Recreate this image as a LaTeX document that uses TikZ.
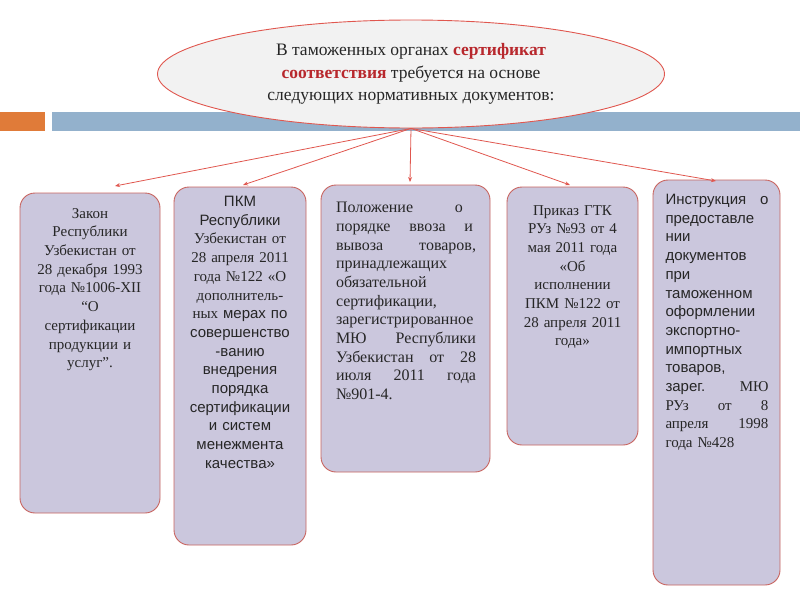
\documentclass[tikz,border=0pt]{standalone}
\usepackage{fontspec}
\setmainfont{Liberation Serif}
\setsansfont{Liberation Sans}
\usepackage{xcolor}
\usepackage{tikz}
\usetikzlibrary{
  arrows.meta,
  shapes.geometric,
  positioning,
  calc
}
\definecolor{skBar}{HTML}{93B1CC}
\definecolor{skOrange}{HTML}{E07B39}
\definecolor{skEllipse}{HTML}{F2F2F2}
\definecolor{skRed}{HTML}{E0574F}
\definecolor{skDark}{HTML}{B8282D}
\definecolor{skBox}{HTML}{CBC7DD}
\definecolor{skEdge}{HTML}{C8645F}
\definecolor{skText}{HTML}{262626}
\newcommand{\spreadline}[2][140pt]{\makebox[#1][s]{#2}}
\tikzset{
  docbox/.style={
    draw=skEdge, fill=skBox, rounded corners=15pt, line width=0.9pt, inner sep=0pt
  },
  doctext/.style={
    anchor=north, inner sep=0pt, text=skText, align=center,
    font=\fontsize{15}{18.7}\selectfont
  },
  topic/.style={
    draw=skRed, fill=skEllipse, ellipse, line width=0.9pt, inner sep=0pt,
    minimum width=507pt, minimum height=108pt, align=center, text=skText,
    font=\fontsize{17.5}{22.5}\selectfont
  },
  link/.style={-{Stealth[length=5pt, width=4pt]}, skRed, line width=0.8pt}
}

\begin{document}
\begin{tikzpicture}[x=1pt, y=-1pt]
  \useasboundingbox (0,0) rectangle (800,600);
  % band under the title
  \fill[skOrange] (0,112) rectangle (45,131);
  \fill[skBar] (52,112) rectangle (800,131);

  \node[topic] (topic) at (411,74)
    {В таможенных органах \textcolor{skDark}{\textbf{сертификат}}\\
     \textcolor{skDark}{\textbf{соответствия}} требуется на основе\\
     следующих нормативных документов:};

  % documents
  \node[docbox, minimum width=140pt, minimum height=320pt] (b1) at (90,353) {};
  \node[docbox, minimum width=132pt, minimum height=358pt] (b2) at (240,366) {};
  \node[docbox, minimum width=169pt, minimum height=287pt] (b3) at (405.5,328.5) {};
  \node[docbox, minimum width=131pt, minimum height=258pt] (b4) at (572.5,316) {};
  \node[docbox, minimum width=127pt, minimum height=405pt] (b5) at (716.5,382.5) {};

  \node[doctext, text width=134pt] (t1) at (90,208)
    {Закон\\ Республики\\ Узбекистан от\\ 28 декабря 1993\\ года №1006-XII\\
     “О\\ сертификации\\ продукции и\\ услуг”.};
  \node[doctext, text width=126pt] (t2) at (240,196)
    {\sffamily ПКМ\\ \sffamily Республики\\ \rmfamily Узбекистан от\\
     \rmfamily 28 апреля 2011\\ \rmfamily года №122 «О\\ \rmfamily дополнитель-\\
     \rmfamily ных \sffamily мерах по\\ \sffamily совершенство\\ \sffamily -ванию\\
     \sffamily внедрения\\ \sffamily порядка\\ \sffamily сертификации\\
     \sffamily и систем\\ \sffamily менежмента\\ \sffamily качества»};
  \node[doctext, text width=141pt, align=left, font=\fontsize{16}{18.7}\selectfont]
    (t3) at (406.5,202)
    {\spreadline[127pt]{Положение\hfill о}\\ \spreadline[137pt]{порядке\hfill ввоза\hfill и}\\
     \spreadline{вывоза\hfill товаров,}\\ принадлежащих\\ обязательной\\
     сертификации,\\ зарегистрированное\\
     \spreadline{МЮ\hfill Республики}\\ \spreadline{Узбекистан\hfill от\hfill 28}\\
     \spreadline{июля\hfill 2011\hfill года}\\ №901-4.};
  \node[doctext, text width=125pt] (t4) at (572.5,205)
    {Приказ ГТК\\ РУз №93 от 4\\ мая 2011 года\\ «Об\\ исполнении\\
     ПКМ №122 от\\ 28 апреля 2011\\ года»};
  \node[doctext, text width=103pt, align=left] (t5) at (717,194)
    {\sffamily\spreadline[103pt]{Инструкция\hfill о}\\ \sffamily предоставле\\
     \sffamily нии\\ \sffamily документов\\ \sffamily при\\ \sffamily таможенном\\
     \sffamily оформлении\\ \sffamily экспортно-\\ \sffamily импортных\\
     \sffamily товаров,\\ \spreadline[103pt]{\sffamily зарег.\hfill \rmfamily МЮ}\\
     \rmfamily\spreadline[103pt]{РУз\hfill от\hfill 8}\\
     \rmfamily\spreadline[103pt]{апреля\hfill 1998}\\ \rmfamily года №428};

  % arrows from the title
  \coordinate (e1) at (115,186);
  \coordinate (e2) at (243,185);
  \coordinate (e3) at (410,182);
  \coordinate (e4) at (570,185);
  \coordinate (e5) at (716,181);
  \foreach \e in {e1,e2,e3,e4,e5}{\draw[link] (topic.south) -- (\e);}
\end{tikzpicture}
\end{document}
